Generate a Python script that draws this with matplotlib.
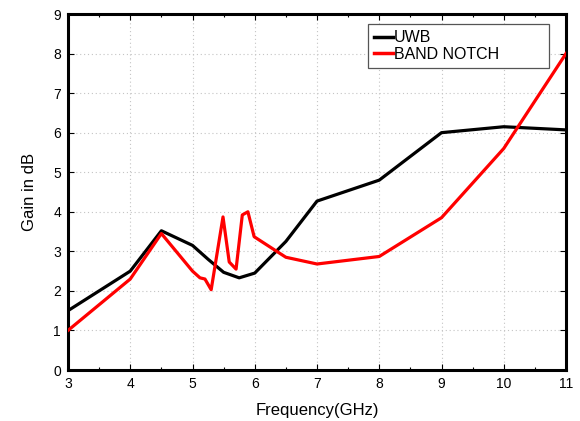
import numpy as np
import matplotlib
matplotlib.use('Agg')
import matplotlib.pyplot as plt
from matplotlib.ticker import MultipleLocator

plt.rcParams['font.family'] = ['Liberation Sans', 'DejaVu Sans']

# UWB antenna gain
uwb_freq = [3.0, 4.0, 4.5, 5.0, 5.25, 5.5, 5.75, 6.0, 6.5, 7.0, 8.0, 9.0, 10.0, 11.0]
uwb_gain = [1.5, 2.5, 3.52, 3.15, 2.8, 2.47, 2.33, 2.45, 3.25, 4.27, 4.8, 6.0, 6.15, 6.07]

# band-notched antenna gain
notch_freq = [3.0, 4.0, 4.5, 5.0, 5.12, 5.2, 5.3, 5.49, 5.59, 5.7, 5.8, 5.89, 5.99, 6.5, 7.0, 8.0, 9.0, 10.0, 11.0]
notch_gain = [1.0, 2.3, 3.45, 2.5, 2.33, 2.3, 2.03, 3.87, 2.73, 2.55, 3.92, 4.0, 3.37, 2.85, 2.68, 2.87, 3.85, 5.6, 8.0]

fig = plt.figure(figsize=(5.8, 4.21), dpi=100)
ax = fig.add_axes([68 / 580, 51 / 421, 498 / 580, 356 / 421])

ax.plot(uwb_freq, uwb_gain, color='black', lw=2.3, label='UWB', zorder=3)
ax.plot(notch_freq, notch_gain, color='#ff0000', lw=2.3, label='BAND NOTCH', zorder=3)

ax.set_xlim(3, 11)
ax.set_ylim(0, 9)
ax.xaxis.set_major_locator(MultipleLocator(1))
ax.xaxis.set_minor_locator(MultipleLocator(0.5))
ax.yaxis.set_major_locator(MultipleLocator(1))
ax.tick_params(which='both', direction='in', top=True, right=True, labelsize=10)
ax.tick_params(which='major', length=4, width=0.8, pad=5)
ax.tick_params(which='minor', length=2.5, width=0.8)
ax.grid(True, which='major', color='#c4c4c4', linestyle=(0, (1, 2.5)), linewidth=0.8)

for sp in ax.spines.values():
    sp.set_linewidth(2.2)

ax.set_xlabel('Frequency(GHz)', fontsize=12, labelpad=9)
ax.set_ylabel('Gain in dB', fontsize=12, labelpad=12)

leg = ax.legend(loc='upper left', bbox_to_anchor=(0.602, 0.972, 0.363, 0.0), mode='expand',
                fontsize=11.5, handlelength=1.15, handletextpad=0.1, borderpad=0.4,
                labelspacing=0.1, borderaxespad=0.0, fancybox=False, framealpha=1)
leg.get_frame().set_edgecolor('#555555')
leg.get_frame().set_linewidth(0.9)
leg.set_zorder(5)
for line in leg.get_lines():
    line.set_linewidth(2.5)

plt.savefig('out.png', dpi=100)
